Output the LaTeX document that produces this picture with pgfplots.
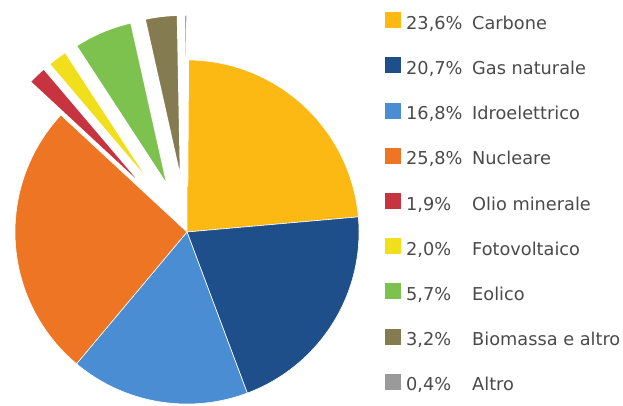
\documentclass[border=0pt]{standalone}
\usepackage{fontspec}
\setmainfont{DejaVu Sans}
\usepackage{pgfplots}
\pgfplotsset{compat=1.18}
\definecolor{carbone}{HTML}{FDB913}
\definecolor{gas}{HTML}{1F4F8A}
\definecolor{idro}{HTML}{4B8DD2}
\definecolor{nucleare}{HTML}{EE7524}
\definecolor{olio}{HTML}{C7343F}
\definecolor{foto}{HTML}{F0DF1A}
\definecolor{eolico}{HTML}{7DC24F}
\definecolor{biomassa}{HTML}{857B50}
\definecolor{altro}{HTML}{9A9A9A}
\definecolor{testo}{HTML}{4A4A4A}
\begin{document}
\begin{tikzpicture}
\begin{axis}[
  name=pie,
  x=1bp, y=1bp,
  xmin=0, xmax=623, ymin=0, ymax=405,
  hide axis, clip=false,
  legend image code/.code={\fill[#1, draw=none] (0bp,-3bp) rectangle (16bp,13bp);},
  legend cell align=left,
  legend style={at={(axis cs:385,393)}, anchor=north west,
    draw=none, fill=none, inner sep=0pt,
    font=\fontsize{17.8}{20}\selectfont, text=testo,
    row sep=24.2bp,
    /tikz/every odd column/.append style={column sep=5bp},
    nodes={inner sep=0pt, text height=12bp, text depth=4bp}},
]
% pie: value in percent / colour / explode distance / white gap
\def\cx{187}\def\cy{173}\def\rr{172}
\xdef\acc{90}
\foreach \v/\col/\e/\w in {23.6/carbone/0/0.6, 20.7/gas/0/0.6, 16.8/idro/0/0.6, 25.8/nucleare/0/0.6,
    1.9/olio/46/3, 2.0/foto/46/3, 5.7/eolico/46/3, 3.2/biomassa/46/3, 0.4/altro/46/3} {
  \pgfmathsetmacro\aa{\acc}
  \pgfmathsetmacro\ab{\acc-3.6*\v}
  \pgfmathsetmacro\am{(\aa+\ab)/2}
  \pgfmathsetmacro\ox{\cx+\e*cos(\am)}
  \pgfmathsetmacro\oy{\cy+\e*sin(\am)}
  \edef\tmp{\noexpand\fill[\col, draw=white, line width=\w bp, line join=round]
    (axis cs:\ox,\oy) -- ++(\aa:\rr bp) arc[start angle=\aa, end angle=\ab, radius=\rr bp] -- cycle;}
  \tmp
  \xdef\acc{\ab}
}
\addlegendimage{fill=carbone}\addlegendentry{\makebox[66bp][l]{23,6\%}Carbone}
\addlegendimage{fill=gas}\addlegendentry{\makebox[66bp][l]{20,7\%}Gas naturale}
\addlegendimage{fill=idro}\addlegendentry{\makebox[66bp][l]{16,8\%}Idroelettrico}
\addlegendimage{fill=nucleare}\addlegendentry{\makebox[66bp][l]{25,8\%}Nucleare}
\addlegendimage{fill=olio}\addlegendentry{\makebox[66bp][l]{1,9\%}Olio minerale}
\addlegendimage{fill=foto}\addlegendentry{\makebox[66bp][l]{2,0\%}Fotovoltaico}
\addlegendimage{fill=eolico}\addlegendentry{\makebox[66bp][l]{5,7\%}Eolico}
\addlegendimage{fill=biomassa}\addlegendentry{\makebox[66bp][l]{3,2\%}Biomassa e altro}
\addlegendimage{fill=altro}\addlegendentry{\makebox[66bp][l]{0,4\%}Altro}
\end{axis}
\pgfresetboundingbox
\path (pie.south west) rectangle (pie.north east);
\end{tikzpicture}
\end{document}
